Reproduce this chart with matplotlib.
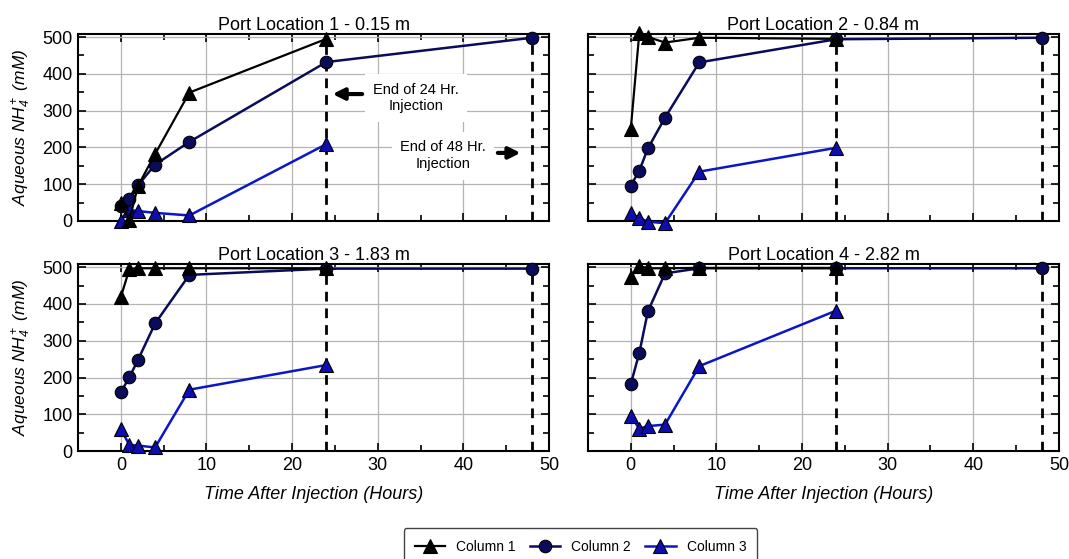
import matplotlib
matplotlib.use("Agg")
import matplotlib.pyplot as plt
from matplotlib.ticker import MultipleLocator

plt.rcParams["font.family"] = ["Liberation Sans", "DejaVu Sans"]
plt.rcParams["mathtext.fontset"] = "custom"
plt.rcParams["mathtext.rm"] = "Liberation Sans:italic"
plt.rcParams["mathtext.it"] = "Liberation Sans:italic"

# ── data ─────────────────────────────────────────────────────────────────────
hours_c2 = [0, 1, 2, 4, 8, 24, 48]
hours_c13 = [0, 1, 2, 4, 8, 24]

titles = ["Port Location 1 - 0.15 m", "Port Location 2 - 0.84 m",
          "Port Location 3 - 1.83 m", "Port Location 4 - 2.82 m"]

col1 = [
    [50, 3, 95, 182, 349, 495],
    [250, 512, 500, 485, 498, 495],
    [419, 495, 497, 497, 497, 497],
    [473, 503, 497, 497, 498, 498],
]
col2 = [
    [40, 60, 97, 153, 215, 432, 498],
    [96, 137, 197, 281, 431, 494, 498],
    [160, 201, 248, 347, 479, 496, 496],
    [182, 267, 380, 483, 497, 497, 497],
]
col3 = [
    [0, 30, 27, 22, 15, 209],
    [21, 8, -2, -6, 134, 199],
    [59, 17, 15, 10, 167, 234],
    [95, 61, 68, 72, 231, 382],
]
injection_end = [24, 48]
series_names = ["Column 1", "Column 2", "Column 3"]

# ── style ────────────────────────────────────────────────────────────────────
C1 = "black"
C2 = "#0b0b5c"
C3_LINE = "#0a16c8"
C3_FACE = "#0d0db0"

fig = plt.figure(figsize=(10.69, 5.59), dpi=100, facecolor="white")
lefts = [0.073, 0.550]
bottoms = [0.6047, 0.193]
w, h = 0.4406, 0.335

axes = []
for i in range(4):
    r, c = divmod(i, 2)
    ax = fig.add_axes([lefts[c], bottoms[r], w, h])
    axes.append(ax)

    ax.vlines(injection_end, 0, 500, colors="black", linestyles=(0, (3.5, 2.5)),
              linewidth=2, zorder=2)

    l1, = ax.plot(hours_c13, col1[i], color=C1, lw=1.6, marker="^", ms=9.5,
                  mfc=C1, mec="black", mew=0.8, zorder=5, clip_on=False)
    l2, = ax.plot(hours_c2, col2[i], color=C2, lw=1.8, marker="o", ms=9,
                  mfc=C2, mec="black", mew=0.8, zorder=4, clip_on=False)
    l3, = ax.plot(hours_c13, col3[i], color=C3_LINE, lw=1.8, marker="^", ms=9.5,
                  mfc=C3_FACE, mec="black", mew=0.8, zorder=3, clip_on=False)

    ax.set_xlim(-5, 50)
    ax.set_ylim(0, 509)
    ax.xaxis.set_major_locator(MultipleLocator(10))
    ax.xaxis.set_minor_locator(MultipleLocator(5))
    ax.yaxis.set_major_locator(MultipleLocator(100))
    ax.yaxis.set_minor_locator(MultipleLocator(50))
    ax.tick_params(which="both", direction="in", top=True, right=True, labelsize=13)
    ax.tick_params(which="major", length=6, width=1.2, pad=4)
    ax.tick_params(which="minor", length=4, width=1.2)
    ax.grid(True, which="major", color="#b4b4b4", linewidth=0.9, zorder=0)
    ax.set_axisbelow(True)
    for spine in ax.spines.values():
        spine.set_linewidth(1.5)
    ax.set_title(titles[i], fontsize=13, pad=2)

    if r == 0:
        ax.tick_params(labelbottom=False)
    else:
        ax.set_xlabel("Time After Injection (Hours)", fontsize=13,
                      style="italic", labelpad=9)
    if c == 1:
        ax.tick_params(labelleft=False)
    else:
        ax.set_ylabel(r"Aqueous NH$_4^+$ (mM)", fontsize=12.5, style="italic",
                      labelpad=7)

    if i == 0:
        handles = [l1, l2, l3]

# ── annotations on first panel ───────────────────────────────────────────────
ax0 = axes[0]
ax0.annotate("", xy=(24.4, 345), xytext=(28.5, 345),
             arrowprops=dict(arrowstyle="-|>", color="black", lw=3,
                             mutation_scale=17), zorder=6)
ax0.text(34.5, 334, "End of 24 Hr.\nInjection", ha="center", va="center",
         fontsize=10.5, linespacing=1.25, zorder=5,
         bbox=dict(facecolor="white", edgecolor="none", pad=6))
ax0.annotate("", xy=(47.0, 185), xytext=(43.7, 185),
             arrowprops=dict(arrowstyle="-|>", color="black", lw=3,
                             mutation_scale=17), zorder=6)
ax0.text(37.6, 177, "End of 48 Hr.\nInjection", ha="center", va="center",
         fontsize=10.5, linespacing=1.25, zorder=5,
         bbox=dict(facecolor="white", edgecolor="none", pad=6))

fig.legend(handles, series_names, loc="upper center", bbox_to_anchor=(0.543, 0.067),
           ncol=3, fontsize=10, frameon=True, fancybox=True, edgecolor="#444444",
           framealpha=1, handlelength=2.2, columnspacing=1.0, borderpad=0.8,
           handletextpad=0.8)

fig.savefig("out.png", dpi=100, facecolor="white")
